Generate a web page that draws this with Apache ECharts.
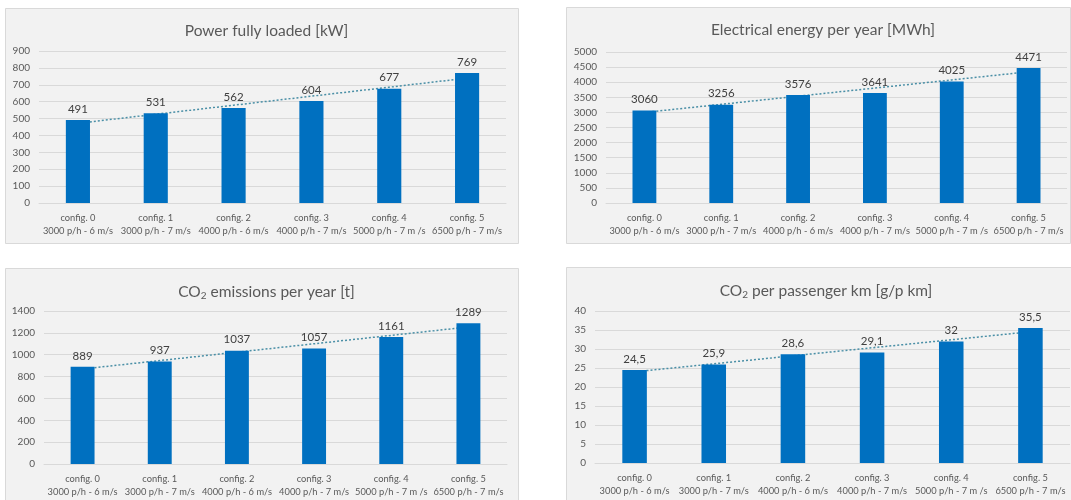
<!DOCTYPE html>
<html>
<head>
<meta charset="utf-8">
<script src="https://cdn.jsdelivr.net/npm/echarts@6/dist/echarts.min.js"></script>
<style>
  html, body { margin: 0; padding: 0; background: #ffffff; }
  #chart { width: 1071px; height: 500px; }
</style>
</head>
<body>
<div id="chart"></div>
<script>
// Configurations compared in every panel
const categories = [
  'config. 0\n3000 p/h - 6 m/s',
  'config. 1\n3000 p/h - 7 m/s',
  'config. 2\n4000 p/h - 6 m/s',
  'config. 3\n4000 p/h - 7 m/s',
  'config. 4\n5000 p/h - 7 m /s',
  'config. 5\n6500 p/h - 7 m/s'
];

// Series values per panel
const powerKW = [491, 531, 562, 604, 677, 769];
const energyMWh = [3060, 3256, 3576, 3641, 4025, 4471];
const co2Tonnes = [889, 937, 1037, 1057, 1161, 1289];
const co2PerPkm = [24.5, 25.9, 28.6, 29.1, 32, 35.5];

// Value-axis ranges (max / step)
const axisPower = [900, 100];
const axisEnergy = [5000, 500];
const axisCo2 = [1400, 200];
const axisPkm = [40, 5];

const BLUE = '#0070C0';
const TREND = '#4a8fa6';
const FONT = 'Lato, "Open Sans", sans-serif';

// Least-squares trend line through the category positions
function trend(values) {
  const n = values.length;
  const mx = (n - 1) / 2;
  const my = values.reduce((a, b) => a + b, 0) / n;
  let sxy = 0, sxx = 0;
  values.forEach((v, i) => { sxy += (i - mx) * (v - my); sxx += (i - mx) * (i - mx); });
  const k = sxy / sxx;
  return values.map((v, i) => my + k * (i - mx));
}

const panels = [
  { rect: [5, 8, 513, 235], grid: { left: 39, top: 51, width: 467, height: 152 },
    title: 'Power fully loaded [kW]', data: powerKW, axis: axisPower },
  { rect: [566, 7, 504, 236], grid: { left: 606, top: 52, width: 461, height: 151 },
    title: 'Electrical energy per year [MWh]', data: energyMWh, axis: axisEnergy },
  { rect: [5, 268, 513, 240], grid: { left: 44, top: 311, width: 463, height: 153 },
    title: ['CO', '2', ' emissions per year [t]'], data: co2Tonnes, axis: axisCo2 },
  { rect: [566, 267, 510, 240], grid: { left: 595, top: 311, width: 475, height: 152 },
    title: ['CO', '2', ' per passenger km [g/p km]'], data: co2PerPkm, axis: axisPkm }
];

const option = {
  animation: false,
  textStyle: { fontFamily: FONT },
  graphic: panels.map(p => ({
    type: 'rect', z: -10, silent: true,
    shape: { x: p.rect[0] + 0.5, y: p.rect[1] + 0.5, width: p.rect[2], height: p.rect[3] },
    style: { fill: '#f2f2f2', stroke: '#d9d9d9', lineWidth: 1 }
  })),
  title: panels.map(p => {
    const cx = p.rect[0] + p.rect[2] / 2;
    const isRich = Array.isArray(p.title);
    return {
      text: isRich ? '{t|' + p.title[0] + '}{s|' + p.title[1] + '}{t|' + p.title[2] + '}' : p.title,
      left: cx, top: p.rect[1] + 10, textAlign: 'center',
      textStyle: {
        fontFamily: FONT, fontSize: 15.5, fontWeight: 'normal', color: '#595959',
        rich: {
          t: { fontFamily: FONT, fontSize: 15.5, color: '#595959' },
          s: { fontFamily: FONT, fontSize: 10, color: '#595959', verticalAlign: 'bottom', padding: [8, 0, 0, 0] }
        }
      }
    };
  }),
  grid: panels.map(p => Object.assign({ containLabel: false }, p.grid)),
  xAxis: panels.map((p, i) => ({
    type: 'category', gridIndex: i, data: categories,
    axisLine: { show: true, lineStyle: { color: '#d9d9d9' } },
    axisTick: { show: false },
    axisLabel: { color: '#595959', fontSize: 9.3, lineHeight: 13, margin: 8, interval: 0, fontFamily: FONT }
  })),
  yAxis: panels.map((p, i) => ({
    type: 'value', gridIndex: i, min: 0, max: p.axis[0], interval: p.axis[1],
    axisLine: { show: false }, axisTick: { show: false },
    splitLine: { lineStyle: { color: '#d9d9d9' } },
    axisLabel: { color: '#595959', fontSize: 10, margin: 9, fontFamily: FONT, formatter: v => String(v) }
  })),
  series: panels.flatMap((p, i) => [
    {
      type: 'line', xAxisIndex: i, yAxisIndex: i, z: 1,
      data: trend(p.data), symbol: 'none', silent: true,
      lineStyle: { color: TREND, width: 1.5, type: [2, 2] }
    },
    {
      type: 'bar', xAxisIndex: i, yAxisIndex: i, z: 2,
      data: p.data, barWidth: '31%',
      itemStyle: { color: BLUE },
      label: {
        show: true, position: 'top', distance: 5, color: '#404040', fontSize: 11.5, fontFamily: FONT,
        formatter: d => String(d.value).replace('.', ',')
      }
    }
  ])
};

const chart = echarts.init(document.getElementById('chart'), null, { renderer: 'canvas' });
chart.setOption(option);
</script>
</body>
</html>
